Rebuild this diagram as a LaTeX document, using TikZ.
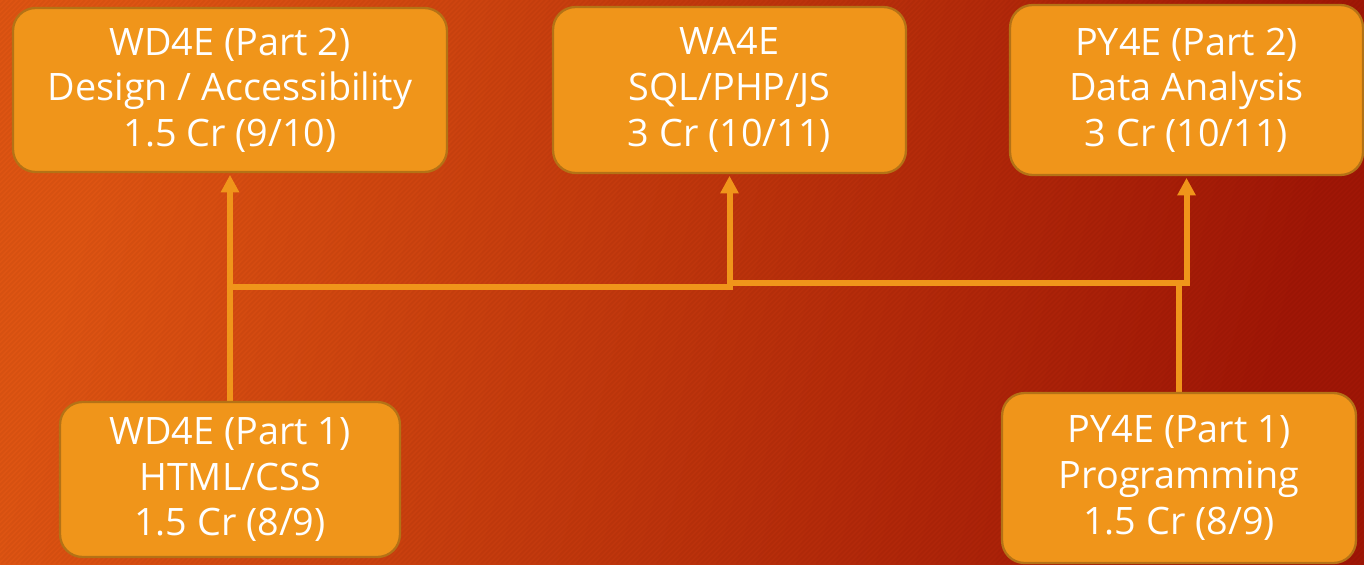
\documentclass[tikz,border=0pt]{standalone}
\usepackage{fontspec}
\setmainfont{Open Sans}
\usetikzlibrary{arrows.meta}
\definecolor{bgA}{RGB}{222,84,18}
\definecolor{bgB}{RGB}{160,22,6}
\definecolor{boxfill}{RGB}{240,149,26}
\definecolor{boxline}{RGB}{180,114,22}
\definecolor{connc}{RGB}{240,149,26}
\pgfdeclarelayer{bglayer}
\pgfdeclarelayer{linelayer}
\pgfsetlayers{bglayer,linelayer,main}
\begin{document}
\begin{tikzpicture}[x=0.02cm,y=-0.02cm,
  course/.style={draw=boxline, line width=1.3pt, fill=boxfill, rounded corners=0.45cm,
    text=white, align=center, font=\fontsize{21.5}{26}\selectfont, inner sep=0pt},
  conn/.style={draw=connc, line width=3.4pt, line cap=rect},
  arr/.style={draw=connc, line width=3.4pt, -{Triangle[width=10pt,length=10pt]}, shorten >=1pt},
  stripe/.style={draw=black, draw opacity=0.035, line width=0.9pt}]
\useasboundingbox (0,0) rectangle (1364,564);
\begin{pgfonlayer}{bglayer}
\shade[top color=bgA, bottom color=bgB, shading angle=75] (0,0) rectangle (1364,564);
\begin{scope}
\clip (0,0) rectangle (1364,564);
\foreach \i in {-564,-559,...,1364} \draw[stripe] (\i,564) -- ++(564,-564);
\end{scope}
\end{pgfonlayer}

\node[course, minimum width=8.68cm, minimum height=3.28cm] (p2wd) at (230,90)
  {WD4E (Part 2)\\Design / Accessibility\\1.5 Cr (9/10)};
\node[course, minimum width=7.06cm, minimum height=3.32cm] (wa) at (729.5,90)
  {WA4E\\SQL/PHP/JS\\3 Cr (10/11)};
\node[course, minimum width=7.06cm, minimum height=3.40cm] (p2py) at (1186.5,90)
  {PY4E (Part 2)\\Data Analysis\\3 Cr (10/11)};
\node[course, minimum width=6.8cm, minimum height=3.1cm] (p1wd) at (230,479.5)
  {WD4E (Part 1)\\HTML/CSS\\1.5 Cr (8/9)};
\node[course, minimum width=7.08cm, minimum height=3.4cm] (p1py) at (1179,478)
  {PY4E (Part 1)\\Programming\\1.5 Cr (8/9)};

\coordinate (j1) at (230,287);
\coordinate (j2) at (729.5,287);
\coordinate (j3) at (729.5,283);
\coordinate (j4) at (1179,283);
\coordinate (j5) at (1186.5,283);

\begin{pgfonlayer}{linelayer}
\draw[conn] (p1wd.north) -- (j1);
\draw[conn] (j1) -- (j2);
\draw[arr] (j1) -- (p2wd.south);
\draw[arr] (j2) -- (wa.south);
\draw[conn] (p1py.north) -- (j4);
\draw[conn] (j3) -- (j5);
\draw[arr] (j5) -- (p2py.south);
\end{pgfonlayer}
\end{tikzpicture}
\end{document}
